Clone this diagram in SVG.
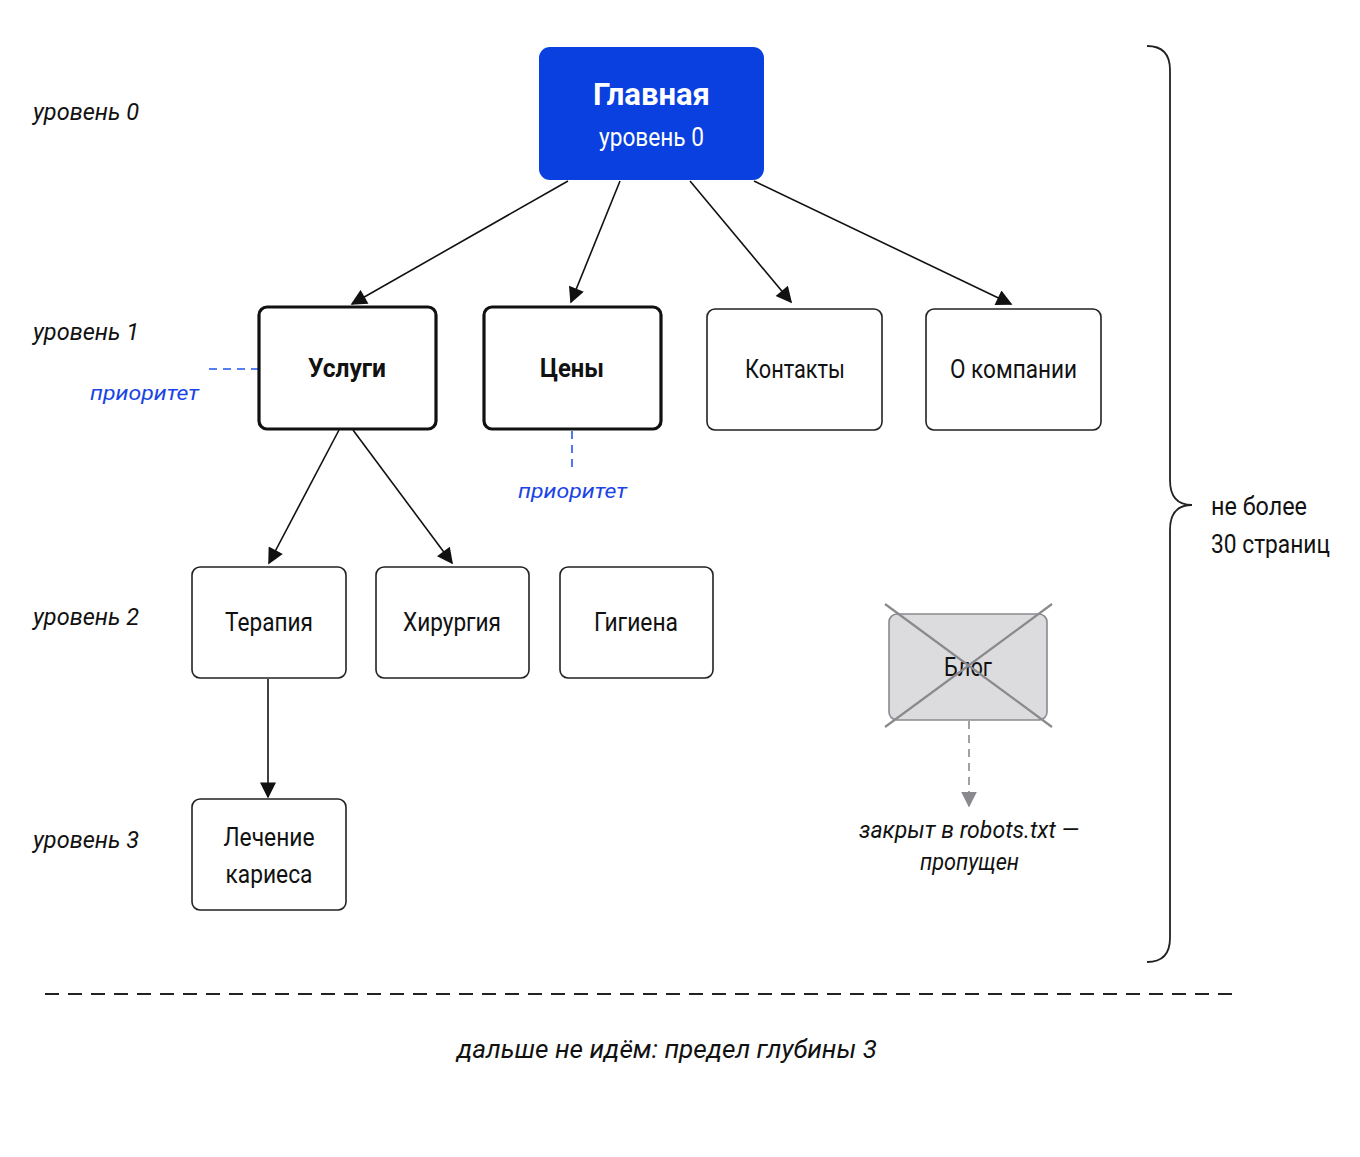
<svg xmlns="http://www.w3.org/2000/svg" width="1360" height="1157" viewBox="0 0 1360 1157">
<defs>
<marker id="ahBig" viewBox="0 0 10 10" refX="9" refY="5" markerWidth="18" markerHeight="16" markerUnits="userSpaceOnUse" orient="auto"><path d="M0,0 L10,5 L0,10 z" fill="#111"/></marker>
<marker id="ahGray" viewBox="0 0 10 10" refX="9" refY="5" markerWidth="16" markerHeight="16" markerUnits="userSpaceOnUse" orient="auto"><path d="M0,0 L10,5 L0,10 z" fill="#8a8a8e"/></marker>
<style>
text{font-family:Roboto,"Liberation Sans",sans-serif;fill:#111}
.lvl{font-size:24px;font-style:italic}
.node{fill:#fff;stroke:#222;stroke-width:1.6}
.pri{fill:#fff;stroke:#111;stroke-width:3.2}
.nt{font-size:25px;text-anchor:middle}
.bt{font-size:25px;text-anchor:middle;font-weight:bold}
.edge{stroke:#111;stroke-width:1.6;fill:none;marker-end:url(#ahBig)}
.prl{stroke:#2255ee;stroke-width:1.6;stroke-dasharray:8 6;fill:none}
.prt{font-size:21px;font-style:italic;fill:#1a44e6}
</style>
</defs>
<rect width="1360" height="1157" fill="#fff"/>

<g id="levels">
<text class="lvl" x="33" y="120" textLength="106" lengthAdjust="spacingAndGlyphs">уровень 0</text>
<text class="lvl" x="33" y="340" textLength="106" lengthAdjust="spacingAndGlyphs">уровень 1</text>
<text class="lvl" x="33" y="625" textLength="106" lengthAdjust="spacingAndGlyphs">уровень 2</text>
<text class="lvl" x="33" y="848" textLength="106" lengthAdjust="spacingAndGlyphs">уровень 3</text>
</g>

<g id="connectors">
<line class="edge" x1="568" y1="181" x2="352" y2="304"/>
<line class="edge" x1="620" y1="181" x2="571" y2="302"/>
<line class="edge" x1="690" y1="181" x2="791" y2="302"/>
<line class="edge" x1="754" y1="181" x2="1011" y2="304"/>
<line class="edge" x1="339" y1="430" x2="269" y2="563"/>
<line class="edge" x1="353" y1="430" x2="452" y2="563"/>
<line class="edge" x1="268" y1="679" x2="268" y2="797"/>
<line x1="969" y1="721" x2="969" y2="806" stroke="#8a8a8e" stroke-width="1.6" stroke-dasharray="8 6" marker-end="url(#ahGray)"/>
<line class="prl" x1="209" y1="369" x2="258" y2="369"/>
<line class="prl" x1="572" y1="431" x2="572" y2="472"/>
</g>

<g id="n-main">
<rect x="539" y="47" width="225" height="133" rx="11" fill="#0a40e0"/>
<text x="651.5" y="105" text-anchor="middle" font-size="31" font-weight="bold" style="fill:#fff" textLength="117" lengthAdjust="spacingAndGlyphs">Главная</text>
<text x="651.5" y="146" text-anchor="middle" font-size="25" style="fill:#fff" textLength="105" lengthAdjust="spacingAndGlyphs">уровень 0</text>
</g>

<g id="n-uslugi">
<rect class="pri" x="259" y="307" width="177" height="122" rx="8"/>
<text class="bt" x="347" y="377" textLength="78" lengthAdjust="spacingAndGlyphs">Услуги</text>
</g>
<g id="n-ceny">
<rect class="pri" x="484" y="307" width="177" height="122" rx="8"/>
<text class="bt" x="572" y="377" textLength="64" lengthAdjust="spacingAndGlyphs">Цены</text>
</g>
<g id="n-kontakty">
<rect class="node" x="707" y="309" width="175" height="121" rx="8"/>
<text class="nt" x="795" y="378" textLength="100" lengthAdjust="spacingAndGlyphs">Контакты</text>
</g>
<g id="n-okompanii">
<rect class="node" x="926" y="309" width="175" height="121" rx="8"/>
<text class="nt" x="1013.5" y="378" textLength="127" lengthAdjust="spacingAndGlyphs">О компании</text>
</g>

<g id="n-terapiya">
<rect class="node" x="192" y="567" width="154" height="111" rx="8"/>
<text class="nt" x="269" y="631" textLength="88" lengthAdjust="spacingAndGlyphs">Терапия</text>
</g>
<g id="n-hirurgiya">
<rect class="node" x="376" y="567" width="153" height="111" rx="8"/>
<text class="nt" x="452" y="631" textLength="98" lengthAdjust="spacingAndGlyphs">Хирургия</text>
</g>
<g id="n-gigiena">
<rect class="node" x="560" y="567" width="153" height="111" rx="8"/>
<text class="nt" x="636" y="631" textLength="84" lengthAdjust="spacingAndGlyphs">Гигиена</text>
</g>
<g id="n-lechenie">
<rect class="node" x="192" y="799" width="154" height="111" rx="8"/>
<text class="nt" x="269" y="846" textLength="91" lengthAdjust="spacingAndGlyphs">Лечение</text>
<text class="nt" x="269" y="883" textLength="87" lengthAdjust="spacingAndGlyphs">кариеса</text>
</g>

<g id="n-blog">
<rect x="889" y="614" width="158" height="106" rx="8" fill="#dcdcdf" stroke="#8a8a8e" stroke-width="1.6"/>
<text class="nt" x="968" y="676" textLength="48" lengthAdjust="spacingAndGlyphs">Блог</text>
<line x1="885" y1="604" x2="1052" y2="727" stroke="#8a8a8e" stroke-width="2.2"/>
<line x1="1052" y1="604" x2="885" y2="727" stroke="#8a8a8e" stroke-width="2.2"/>
</g>

<g id="priority-labels">
<text class="prt" x="90" y="400" textLength="109" lengthAdjust="spacingAndGlyphs">приоритет</text>
<text class="prt" x="572.5" y="498" text-anchor="middle" textLength="109" lengthAdjust="spacingAndGlyphs">приоритет</text>
</g>

<g id="blog-note">
<text x="969" y="838" text-anchor="middle" font-size="23" font-style="italic" textLength="220" lengthAdjust="spacingAndGlyphs">закрыт в robots.txt —</text>
<text x="969.5" y="870" text-anchor="middle" font-size="23" font-style="italic" textLength="99" lengthAdjust="spacingAndGlyphs">пропущен</text>
</g>

<g id="brace">
<path d="M1147,46 Q1170,46 1170,70 L1170,480 Q1170,505 1192,505 Q1170,505 1170,530 L1170,938 Q1170,962 1147,962" fill="none" stroke="#222" stroke-width="1.8"/>
<text x="1211" y="515" font-size="25" textLength="96" lengthAdjust="spacingAndGlyphs">не более</text>
<text x="1211" y="553" font-size="25" textLength="119" lengthAdjust="spacingAndGlyphs">30 страниц</text>
</g>

<g id="depth-limit">
<line x1="45" y1="994" x2="1240" y2="994" stroke="#222" stroke-width="1.8" stroke-dasharray="14 9"/>
<text x="667" y="1058" text-anchor="middle" font-size="26" font-style="italic" textLength="420" lengthAdjust="spacingAndGlyphs">дальше не идём: предел глубины 3</text>
</g>
</svg>
